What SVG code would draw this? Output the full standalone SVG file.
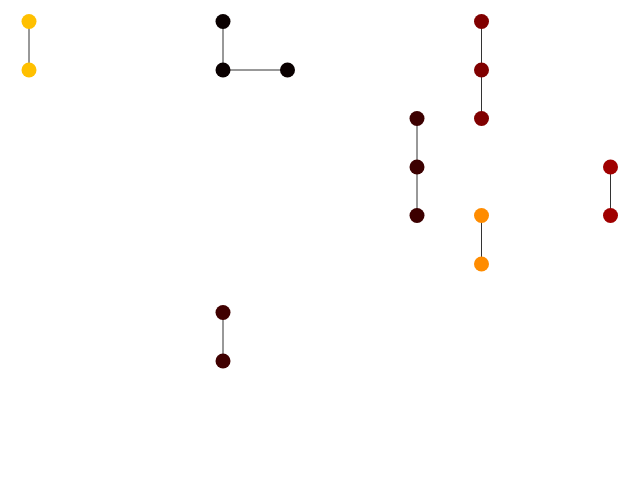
<svg xmlns="http://www.w3.org/2000/svg" width="640" height="480" viewBox="0 0 640 480">
<style>
.e{stroke:#333;stroke-width:1;fill:none}
.n{stroke:none}
</style>
<rect width="640" height="480" fill="#fff"/>
<g id="edges">
<line class="e" x1="29" y1="21.5" x2="29" y2="70"/>
<line class="e" x1="223" y1="21.5" x2="223" y2="70"/>
<line class="e" x1="223" y1="70" x2="287.5" y2="70"/>
<line class="e" x1="481.5" y1="21.5" x2="481.5" y2="70"/>
<line class="e" x1="481.5" y1="70" x2="481.5" y2="118.5"/>
<line class="e" x1="417" y1="118.5" x2="417" y2="167"/>
<line class="e" x1="417" y1="167" x2="417" y2="215.5"/>
<line class="e" x1="610.5" y1="167" x2="610.5" y2="215.5"/>
<line class="e" x1="481.5" y1="215.5" x2="481.5" y2="264"/>
<line class="e" x1="223" y1="312.5" x2="223" y2="361"/>
</g>
<g id="n1"><circle class="n" cx="29" cy="21.5" r="7.5" fill="#ffc000"/></g>
<g id="n2"><circle class="n" cx="29" cy="70" r="7.5" fill="#ffc000"/></g>
<g id="n3"><circle class="n" cx="223" cy="21.5" r="7.5" fill="#0a0000"/></g>
<g id="n4"><circle class="n" cx="223" cy="70" r="7.5" fill="#0a0000"/></g>
<g id="n5"><circle class="n" cx="287.5" cy="70" r="7.5" fill="#0a0000"/></g>
<g id="n6"><circle class="n" cx="481.5" cy="21.5" r="7.5" fill="#800000"/></g>
<g id="n7"><circle class="n" cx="481.5" cy="70" r="7.5" fill="#800000"/></g>
<g id="n8"><circle class="n" cx="481.5" cy="118.5" r="7.5" fill="#800000"/></g>
<g id="n9"><circle class="n" cx="417" cy="118.5" r="7.5" fill="#3c0000"/></g>
<g id="n10"><circle class="n" cx="417" cy="167" r="7.5" fill="#3c0000"/></g>
<g id="n11"><circle class="n" cx="417" cy="215.5" r="7.5" fill="#3c0000"/></g>
<g id="n12"><circle class="n" cx="610.5" cy="167" r="7.5" fill="#a00000"/></g>
<g id="n13"><circle class="n" cx="610.5" cy="215.5" r="7.5" fill="#a00000"/></g>
<g id="n14"><circle class="n" cx="481.5" cy="215.5" r="7.5" fill="#ff8c00"/></g>
<g id="n15"><circle class="n" cx="481.5" cy="264" r="7.5" fill="#ff8c00"/></g>
<g id="n16"><circle class="n" cx="223" cy="312.5" r="7.5" fill="#400000"/></g>
<g id="n17"><circle class="n" cx="223" cy="361" r="7.5" fill="#400000"/></g>
</svg>
